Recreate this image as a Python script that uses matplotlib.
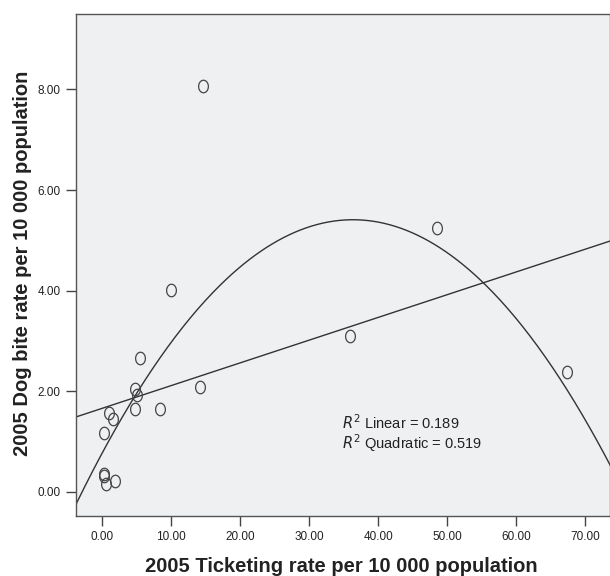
import matplotlib
matplotlib.use('Agg')
import matplotlib.pyplot as plt
import numpy as np
from matplotlib.path import Path

plt.rcParams['font.family'] = ['Liberation Sans', 'DejaVu Sans']

# data
ticketing = [14.6, 9.9, 48.5, 67.3, 35.9, 14.1, 5.5, 4.7, 5.1, 4.7, 8.4,
             1.0, 1.5, 0.2, 0.2, 0.2, 0.6, 1.8]
dog_bite = [8.07, 4.01, 5.24, 2.38, 3.09, 2.09, 2.66, 2.05, 1.93, 1.65, 1.65,
            1.56, 1.44, 1.16, 0.36, 0.32, 0.15, 0.21]
x_ticks = [0, 10, 20, 30, 40, 50, 60, 70]
y_ticks = [0, 2, 4, 6, 8]
r2_linear = 0.189
r2_quad = 0.519

x = np.array(ticketing)
y = np.array(dog_bite)

fig = plt.figure(figsize=(6.1, 5.76), dpi=100)
ax = fig.add_axes([0.1246, 0.1042, 0.8754, 0.8715])
ax.set_facecolor('#eff0f2')

# SPSS style open "O" markers (slightly taller than wide)
t = np.linspace(0, 2 * np.pi, 60)
oval = Path(np.column_stack([0.78 * np.cos(t), np.sin(t)]))
ax.plot(x, y, linestyle='none', marker=oval, markersize=9, mfc='none',
        mec='#444444', mew=0.9, zorder=3)

# fit lines
xs = np.linspace(-6, 75, 300)
lin = np.polyfit(x, y, 1)
quad = np.polyfit(x, y, 2)
ax.plot(xs, np.polyval(lin, xs), color='#333333', lw=1.0)
ax.plot(xs, np.polyval(quad, xs), color='#333333', lw=1.0)

ax.text(34.7, 1.37, r'$R^2$ Linear = %.3f' % r2_linear, fontsize=10.5,
        va='center', color='#222222')
ax.text(34.7, 0.97, r'$R^2$ Quadratic = %.3f' % r2_quad, fontsize=10.5,
        va='center', color='#222222')

ax.set_xlim(-3.8, 73.6)
ax.set_ylim(-0.48, 9.5)
ax.set_xticks(x_ticks)
ax.set_yticks(y_ticks)
ax.set_xticklabels(['%.2f' % v for v in x_ticks])
ax.set_yticklabels(['%.2f' % v for v in y_ticks])
ax.tick_params(direction='out', length=7, width=1, color='#444444', pad=4,
               labelsize=8.5, labelcolor='#222222')
for s in ax.spines.values():
    s.set_color('#555555')
    s.set_linewidth(1)

ax.set_xlabel('2005 Ticketing rate per 10 000 population', fontsize=14.5,
              fontweight='bold', color='#222222')
ax.set_ylabel('2005 Dog bite rate per 10 000 population', fontsize=14.5,
              fontweight='bold', color='#222222')
ax.xaxis.set_label_coords(0.497, -0.0817)
ax.yaxis.set_label_coords(-0.082, 0.503)

fig.savefig('out.png', dpi=100)
